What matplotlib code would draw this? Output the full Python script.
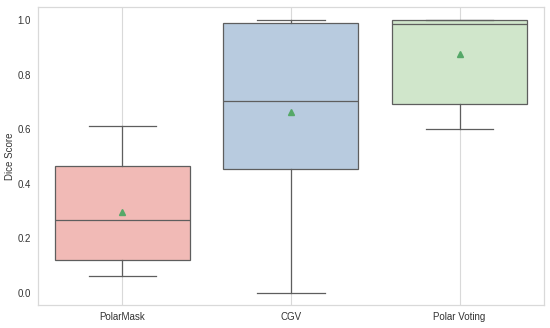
import matplotlib
matplotlib.use('Agg')
import matplotlib.pyplot as plt

plt.rcParams['font.family'] = ['Liberation Sans', 'DejaVu Sans']

methods = ['PolarMask', 'CGV', 'Polar Voting']
whislo = [0.063, 0.0, 0.60]
q1 = [0.122, 0.455, 0.693]
med = [0.267, 0.705, 0.985]
q3 = [0.465, 0.99, 1.0]
whishi = [0.61, 1.0, 1.0]
means = [0.296, 0.663, 0.874]
colors = ['#f1bab6', '#b8cbdf', '#d0e6cb']

stats = []
for i in range(len(methods)):
    stats.append(dict(label=methods[i], whislo=whislo[i], q1=q1[i], med=med[i],
                      q3=q3[i], whishi=whishi[i], mean=means[i], fliers=[]))

fig = plt.figure(figsize=(5.5, 3.28), dpi=100)
ax = fig.add_axes([0.069, 0.070, 0.920, 0.909])

edge = '#5e5e5e'
bp = ax.bxp(stats, positions=range(len(methods)), widths=0.8, patch_artist=True,
            showmeans=True, capwidths=0.4,
            boxprops=dict(edgecolor=edge, linewidth=0.9),
            medianprops=dict(color=edge, linewidth=0.9),
            whiskerprops=dict(color=edge, linewidth=0.9),
            capprops=dict(color=edge, linewidth=0.9),
            meanprops=dict(marker='^', markerfacecolor='#55a868',
                           markeredgecolor='#55a868', markersize=4.5))
for patch, c in zip(bp['boxes'], colors):
    patch.set_facecolor(c)

ax.set_xlim(-0.5, 2.5)
ax.set_ylim(-0.044, 1.048)
ax.set_yticks([0.0, 0.2, 0.4, 0.6, 0.8, 1.0])
ax.set_xticks(range(len(methods)))
ax.set_xticklabels(methods)
ax.set_ylabel('Dice Score', fontsize=7, color='#333333', labelpad=2)
ax.tick_params(labelsize=7, colors='#333333', length=0, pad=5)
ax.xaxis.grid(True, color='#d9d9d9', linewidth=0.8)
ax.set_axisbelow(True)
for s in ax.spines.values():
    s.set_color('#d9d9d9')
    s.set_linewidth(0.9)

fig.savefig('out.png', dpi=100)
